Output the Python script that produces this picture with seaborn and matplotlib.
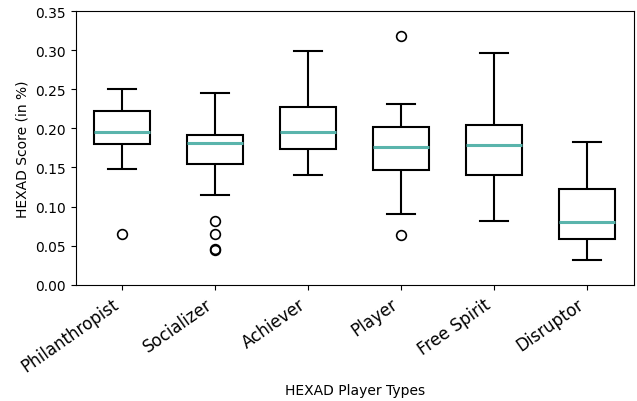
import matplotlib
matplotlib.use('Agg')
import matplotlib.pyplot as plt
import pandas as pd
import seaborn as sns

# sample values per player type, picked so the box stats match the figure
philanthropist = [0.065, 0.148, 0.180, 0.188, 0.195, 0.210, 0.2225, 0.240, 0.250]
socializer = [0.045, 0.046, 0.065, 0.082, 0.115,
              0.155, 0.160, 0.168, 0.172, 0.177,
              0.181,
              0.183, 0.185, 0.187, 0.190,
              0.1915, 0.200, 0.210, 0.220, 0.232, 0.245]
achiever = [0.141, 0.1737, 0.195, 0.2277, 0.2985]
player = [0.064, 0.091, 0.1473, 0.160, 0.1759, 0.190, 0.2014, 0.2312, 0.3184]
free_spirit = [0.082, 0.140, 0.1784, 0.2039, 0.2963]
disruptor = [0.0315, 0.0592, 0.080, 0.1222, 0.1822]

types = ['Philanthropist', 'Socializer', 'Achiever', 'Player', 'Free Spirit', 'Disruptor']
values = [philanthropist, socializer, achiever, player, free_spirit, disruptor]

rows = []
for t, v in zip(types, values):
	for x in v:
		rows.append((t, x))
df = pd.DataFrame(rows, columns=['type', 'score'])

plt.rcParams['font.family'] = ['DejaVu Sans']
fig = plt.figure(figsize=(6.37, 4.02), dpi=100)
ax = fig.add_axes([0.119, 0.289, 0.876, 0.681])

sns.boxplot(data=df, x='type', y='score', order=types, ax=ax,
	color='white', linecolor='black', linewidth=1.5, width=0.6,
	medianprops=dict(color='#5ab4ac', linewidth=2.2),
	flierprops=dict(marker='o', markerfacecolor='none', markeredgecolor='black',
		markersize=7, markeredgewidth=1.2))

ax.set_ylim(0, 0.35)
ax.set_yticks([0.0, 0.05, 0.10, 0.15, 0.20, 0.25, 0.30, 0.35])
ax.set_yticklabels(['%.2f' % v for v in ax.get_yticks()])
ax.set_xlabel('HEXAD Player Types', labelpad=6)
ax.set_ylabel('HEXAD Score (in %)')
plt.setp(ax.get_xticklabels(), rotation=35, ha='right', fontsize=12)

fig.savefig('out.png', dpi=100)
